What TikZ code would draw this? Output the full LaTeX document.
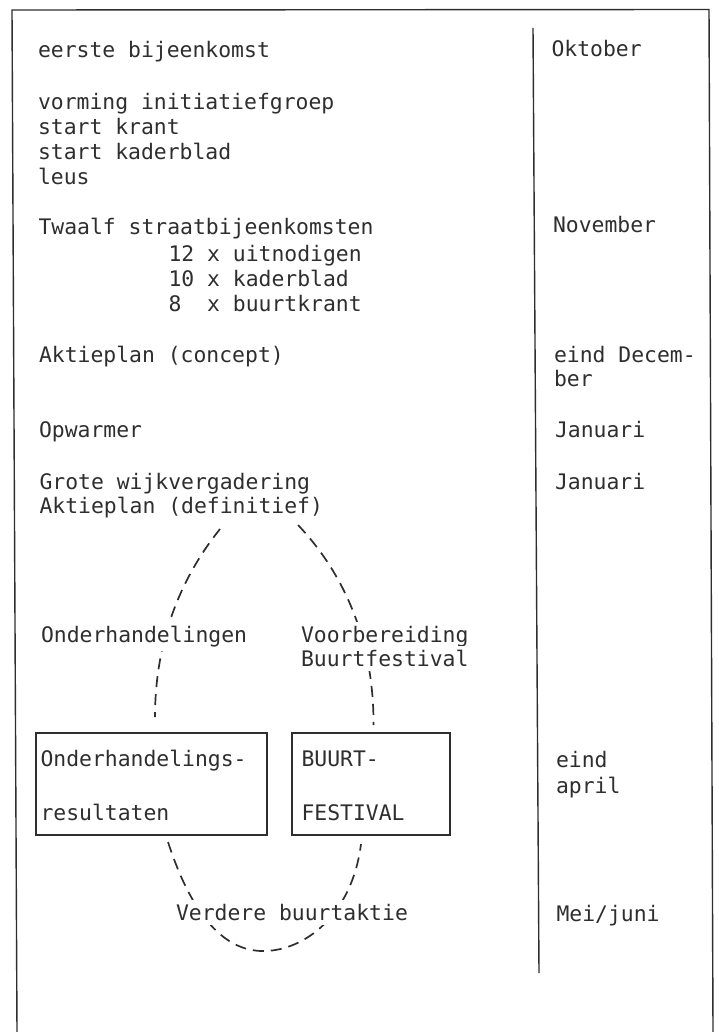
\documentclass[tikz,border=0pt]{standalone}
\usepackage{fontspec}
\setmainfont{DejaVu Sans Mono}
\definecolor{ink}{gray}{0.18}
\begin{document}
\begin{tikzpicture}[x=1pt,y=-1pt,
  txt/.style={anchor=text, inner sep=0pt, text=ink, font=\fontsize{21.4}{25}\selectfont},
  gaptxt/.style={txt, fill=white, inner sep=4pt},
  frameline/.style={draw=ink, line width=1.4pt},
  boxnode/.style={draw=ink, line width=2pt, rectangle, inner sep=0pt, anchor=north west},
  dashline/.style={draw=ink, line width=1.7pt, dash pattern=on 11pt off 7pt}]
\useasboundingbox (0,0) rectangle (719,1032);
% frame and divider
\draw[frameline] (17,1032) -- (12,10) -- (709,9.5) -- (713,1032);
\draw[frameline] (533,28) -- (539,973);
% left column
\node[txt] (l1) at (38,58) {eerste bijeenkomst};
\node[txt] (l2) at (38,110) {vorming initiatiefgroep};
\node[txt] (l3) at (38,135) {start krant};
\node[txt] (l4) at (38,159.5) {start kaderblad};
\node[txt] (l5) at (38,184.5) {leus};
\node[txt] (l6) at (38.5,234) {Twaalf straatbijeenkomsten};
\node[txt] (l7) at (168.5,261) {12 x uitnodigen};
\node[txt] (l8) at (168.5,286) {10 x kaderblad};
\node[txt] (l9) at (168.5,311) {8\phantom{0} x buurtkrant};
\node[txt] (l10) at (39,362.5) {Aktieplan (concept)};
\node[txt] (l11) at (39,437.5) {Opwarmer};
\node[txt] (l12) at (39.5,489) {Grote wijkvergadering};
\node[txt] (akt2) at (39.5,513.5) {Aktieplan (definitief)};
% right column
\node[txt] (r1) at (551.5,57) {Oktober};
\node[txt] (r2) at (553,233) {November};
\node[txt] (r3) at (554,362) {eind Decem-};
\node[txt] (r4) at (554,386.5) {ber};
\node[txt] (r5) at (555,437.5) {Januari};
\node[txt] (r6) at (555,489) {Januari};
\node[txt] (r7) at (556,767) {eind};
\node[txt] (r8) at (556,793) {april};
\node[txt] (r9) at (556.5,921) {Mei/juni};
% boxes
\node[boxnode, minimum width=231pt, minimum height=102pt] (resbox) at (35,732) {};
\node[boxnode, minimum width=158pt, minimum height=102pt] (fesbox) at (291,732) {};
\node[txt] (b1a) at (40.5,766.5) {Onderhandelings-};
\node[txt] (b1b) at (40.5,820) {resultaten};
\node[txt] (b2a) at (301.5,766) {BUURT-};
\node[txt] (b2b) at (301.5,820) {FESTIVAL};
% dashed connectors
\draw[dashline] ([xshift=38.8pt,yshift=-15.5pt]akt2.base) .. controls (175,585) and (155,650) .. ([xshift=3.5pt,yshift=15pt]resbox.north);
\draw[dashline] ([xshift=116.8pt,yshift=-11.5pt]akt2.base) .. controls (350,580) and (374,650) .. ([xshift=2.5pt,yshift=7pt]fesbox.north);
\draw[dashline] ([xshift=16.5pt,yshift=-6pt]resbox.south) .. controls (195,925) and (230,952) .. (265,951) .. controls (305,950) and (352,915) .. ([xshift=-10pt,yshift=-8pt]fesbox.south);
% labels over the connectors
\node[gaptxt] (onder) at (41,642) {Onderhandelingen};
\node[gaptxt] (voor1) at (301,642) {Voorbereiding};
\node[gaptxt] (voor2) at (301,666.5) {Buurtfestival};
\node[gaptxt] (verd) at (176,920.5) {Verdere buurtaktie};
\end{tikzpicture}
\end{document}
